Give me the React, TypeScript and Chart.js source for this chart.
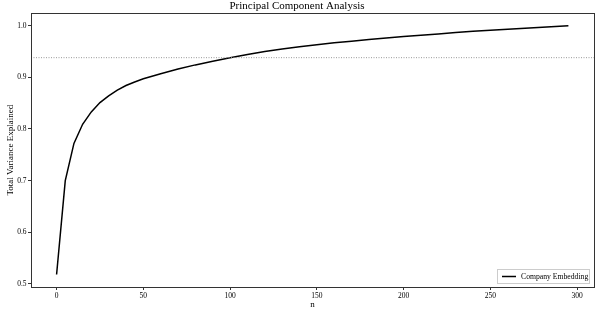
import React, { useEffect, useRef } from "react";
import { Chart, registerables } from "chart.js";

Chart.register(...registerables);

const nValues = [0, 5, 10, 15, 20, 25, 30, 35, 40, 45, 50, 60, 70, 80, 90, 100, 110, 120, 130, 140, 150, 160, 170, 180, 190, 200, 210, 220, 230, 240, 250, 260, 270, 280, 290, 295];
const varianceExplained = [0.518, 0.700, 0.772, 0.809, 0.833, 0.851, 0.864, 0.875, 0.884, 0.891, 0.897, 0.907, 0.916, 0.924, 0.931, 0.938, 0.944, 0.950, 0.955, 0.959, 0.963, 0.967, 0.970, 0.973, 0.976, 0.979, 0.9815, 0.984, 0.9865, 0.989, 0.991, 0.993, 0.995, 0.997, 0.999, 1.000];
const thresholdValue = 0.938;
const xTicks = [0, 50, 100, 150, 200, 250, 300];
const yTicks = [0.5, 0.6, 0.7, 0.8, 0.9, 1.0];
const seriesLabel = "Company Embedding";
const chartTitle = "Principal Component Analysis";
const xTitle = "n";
const yTitle = "Total Variance Explained";

const FONT = "'Liberation Serif', 'DejaVu Serif', serif";

export default function App() {
  const ref = useRef<HTMLCanvasElement>(null);
  useEffect(() => {
    document.body.style.margin = "0";
    const xMin = -14.75, xMax = 309.75;
    const yMin = 0.4939, yMax = 1.0241;
    const framePlugin = {
      id: "frame",
      afterDatasetsDraw(chart: any) {
        const { ctx, chartArea: a } = chart;
        ctx.save();
        ctx.strokeStyle = "#333";
        ctx.lineWidth = 1;
        const l = Math.round(a.left), t = Math.round(a.top), r = Math.round(a.right), b = Math.round(a.bottom);
        ctx.strokeRect(l + 0.5, t + 0.5, r - l, b - t);
        // legend
        const bw = 92, bh = 14;
        const bx = r - 5 - bw, by = b - 4 - bh;
        ctx.fillStyle = "rgba(255,255,255,0.9)";
        ctx.fillRect(bx, by, bw, bh);
        ctx.strokeStyle = "#ccc";
        ctx.strokeRect(bx + 0.5, by + 0.5, bw, bh);
        ctx.strokeStyle = "#000";
        ctx.lineWidth = 1.5;
        ctx.beginPath();
        ctx.moveTo(bx + 5, by + bh / 2 + 0.5);
        ctx.lineTo(bx + 19, by + bh / 2 + 0.5);
        ctx.stroke();
        ctx.fillStyle = "#000";
        ctx.font = "7.7px " + FONT;
        ctx.textBaseline = "middle";
        ctx.fillText(seriesLabel, bx + 24, by + bh / 2 + 0.5);
        ctx.restore();
      },
    };
    const chart = new Chart(ref.current!, {
      type: "line",
      data: {
        datasets: [
          {
            label: "threshold",
            data: [{ x: xMin, y: thresholdValue }, { x: xMax, y: thresholdValue }],
            borderColor: "#999",
            borderWidth: 1,
            borderDash: [1, 1.5],
            pointRadius: 0,
          },
          {
            label: seriesLabel,
            data: nValues.map((n, i) => ({ x: n, y: varianceExplained[i] })),
            borderColor: "#000",
            borderWidth: 1.5,
            pointRadius: 0,
            tension: 0,
          },
        ],
      },
      options: {
        animation: false,
        responsive: false,
        devicePixelRatio: 1,
        layout: { padding: { left: 0, right: 4, top: 0, bottom: 0 } },
        plugins: {
          legend: { display: false },
          tooltip: { enabled: false },
          title: {
            display: true,
            text: chartTitle,
            color: "#000",
            font: { family: FONT, size: 11, weight: "normal" },
            padding: { top: 0, bottom: 0 },
          },
        },
        scales: {
          x: {
            type: "linear",
            min: xMin,
            max: xMax,
            afterBuildTicks: (s: any) => { s.ticks = xTicks.map((v) => ({ value: v })); },
            afterFit: (s: any) => { s.height = 27; },
            grid: { drawOnChartArea: false, drawTicks: true, tickLength: 3, color: "#333" },
            border: { display: true, color: "#333" },
            ticks: { color: "#000", font: { family: FONT, size: 7.5 }, padding: 1.5, maxRotation: 0, callback: (v: any) => String(v) },
            title: { display: true, text: xTitle, color: "#000", font: { family: FONT, size: 9 }, padding: { top: 0, bottom: 4 } },
          },
          y: {
            type: "linear",
            min: yMin,
            max: yMax,
            afterBuildTicks: (s: any) => { s.ticks = yTicks.map((v) => ({ value: v })); },
            afterFit: (s: any) => { s.width = 31; },
            grid: { drawOnChartArea: false, drawTicks: true, tickLength: 3, color: "#333" },
            border: { display: true, color: "#333" },
            ticks: { color: "#000", font: { family: FONT, size: 7.5 }, padding: 1.5, callback: (v: any) => Number(v).toFixed(1) },
            title: { display: true, text: yTitle, color: "#000", font: { family: FONT, size: 9 }, padding: { top: 5, bottom: 0 } },
          },
        },
      },
      plugins: [framePlugin],
    });
    return () => chart.destroy();
  }, []);
  return (
    <div style={{ width: 598, height: 314, background: "#fff" }}>
      <canvas ref={ref} width={598} height={314} style={{ display: "block" }} />
    </div>
  );
}
